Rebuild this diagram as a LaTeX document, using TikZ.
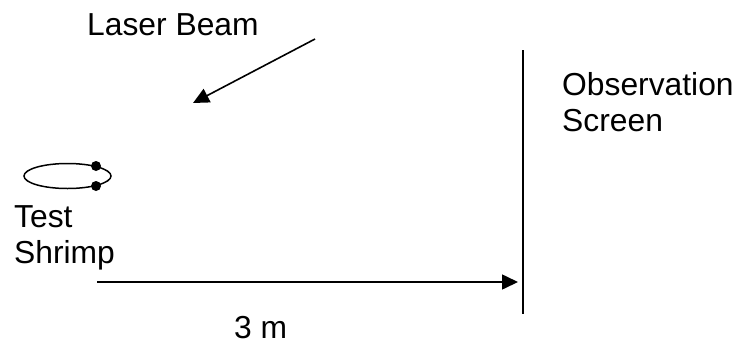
\documentclass[tikz,border=0pt]{standalone}
\usepackage{fontspec}
\setmainfont{Liberation Sans}
\usetikzlibrary{arrows.meta}
\tikzset{lbl/.style={inner sep=0pt,font=\fontsize{31.8bp}{36bp}\selectfont,align=left},
 ln/.style={line width=1.6bp,black},
 arr/.style={ln,-{Triangle[length=16bp,width=15bp]}},
 dot/.style={circle,fill=black,inner sep=0pt,minimum size=10bp}}
\begin{document}
\begin{tikzpicture}[x=1bp,y=-1bp]
\useasboundingbox (0,0) rectangle (744,343);
\node[lbl,anchor=base west] (laser) at (87,35.5) {Laser Beam};
\coordinate (ls) at (315,39);
\coordinate (le) at (193,103);
\draw[arr] (ls) -- (le);
\coordinate (st) at (523,50);
\coordinate (sb) at (523,314);
\draw[ln] (st) -- (sb);
\node[lbl,anchor=base west] (obs1) at (562,95.5) {Observation};
\node[lbl,anchor=base west] (obs2) at (562,131.5) {Screen};
\draw[line width=1.5bp] (67.5,176) ellipse (43.5 and 12.5);
\node[dot] (d1) at (96,166) {};
\node[dot] (d2) at (96,186) {};
\node[lbl,anchor=base west] (t1) at (14,227.5) {Test};
\node[lbl,anchor=base west] (t2) at (14,263.5) {Shrimp};
\coordinate (as) at (97,282);
\coordinate (ae) at (518,282);
\draw[arr] (as) -- (ae);
\node[lbl,anchor=base west] (m) at (234,338) {3 m};
\end{tikzpicture}
\end{document}
